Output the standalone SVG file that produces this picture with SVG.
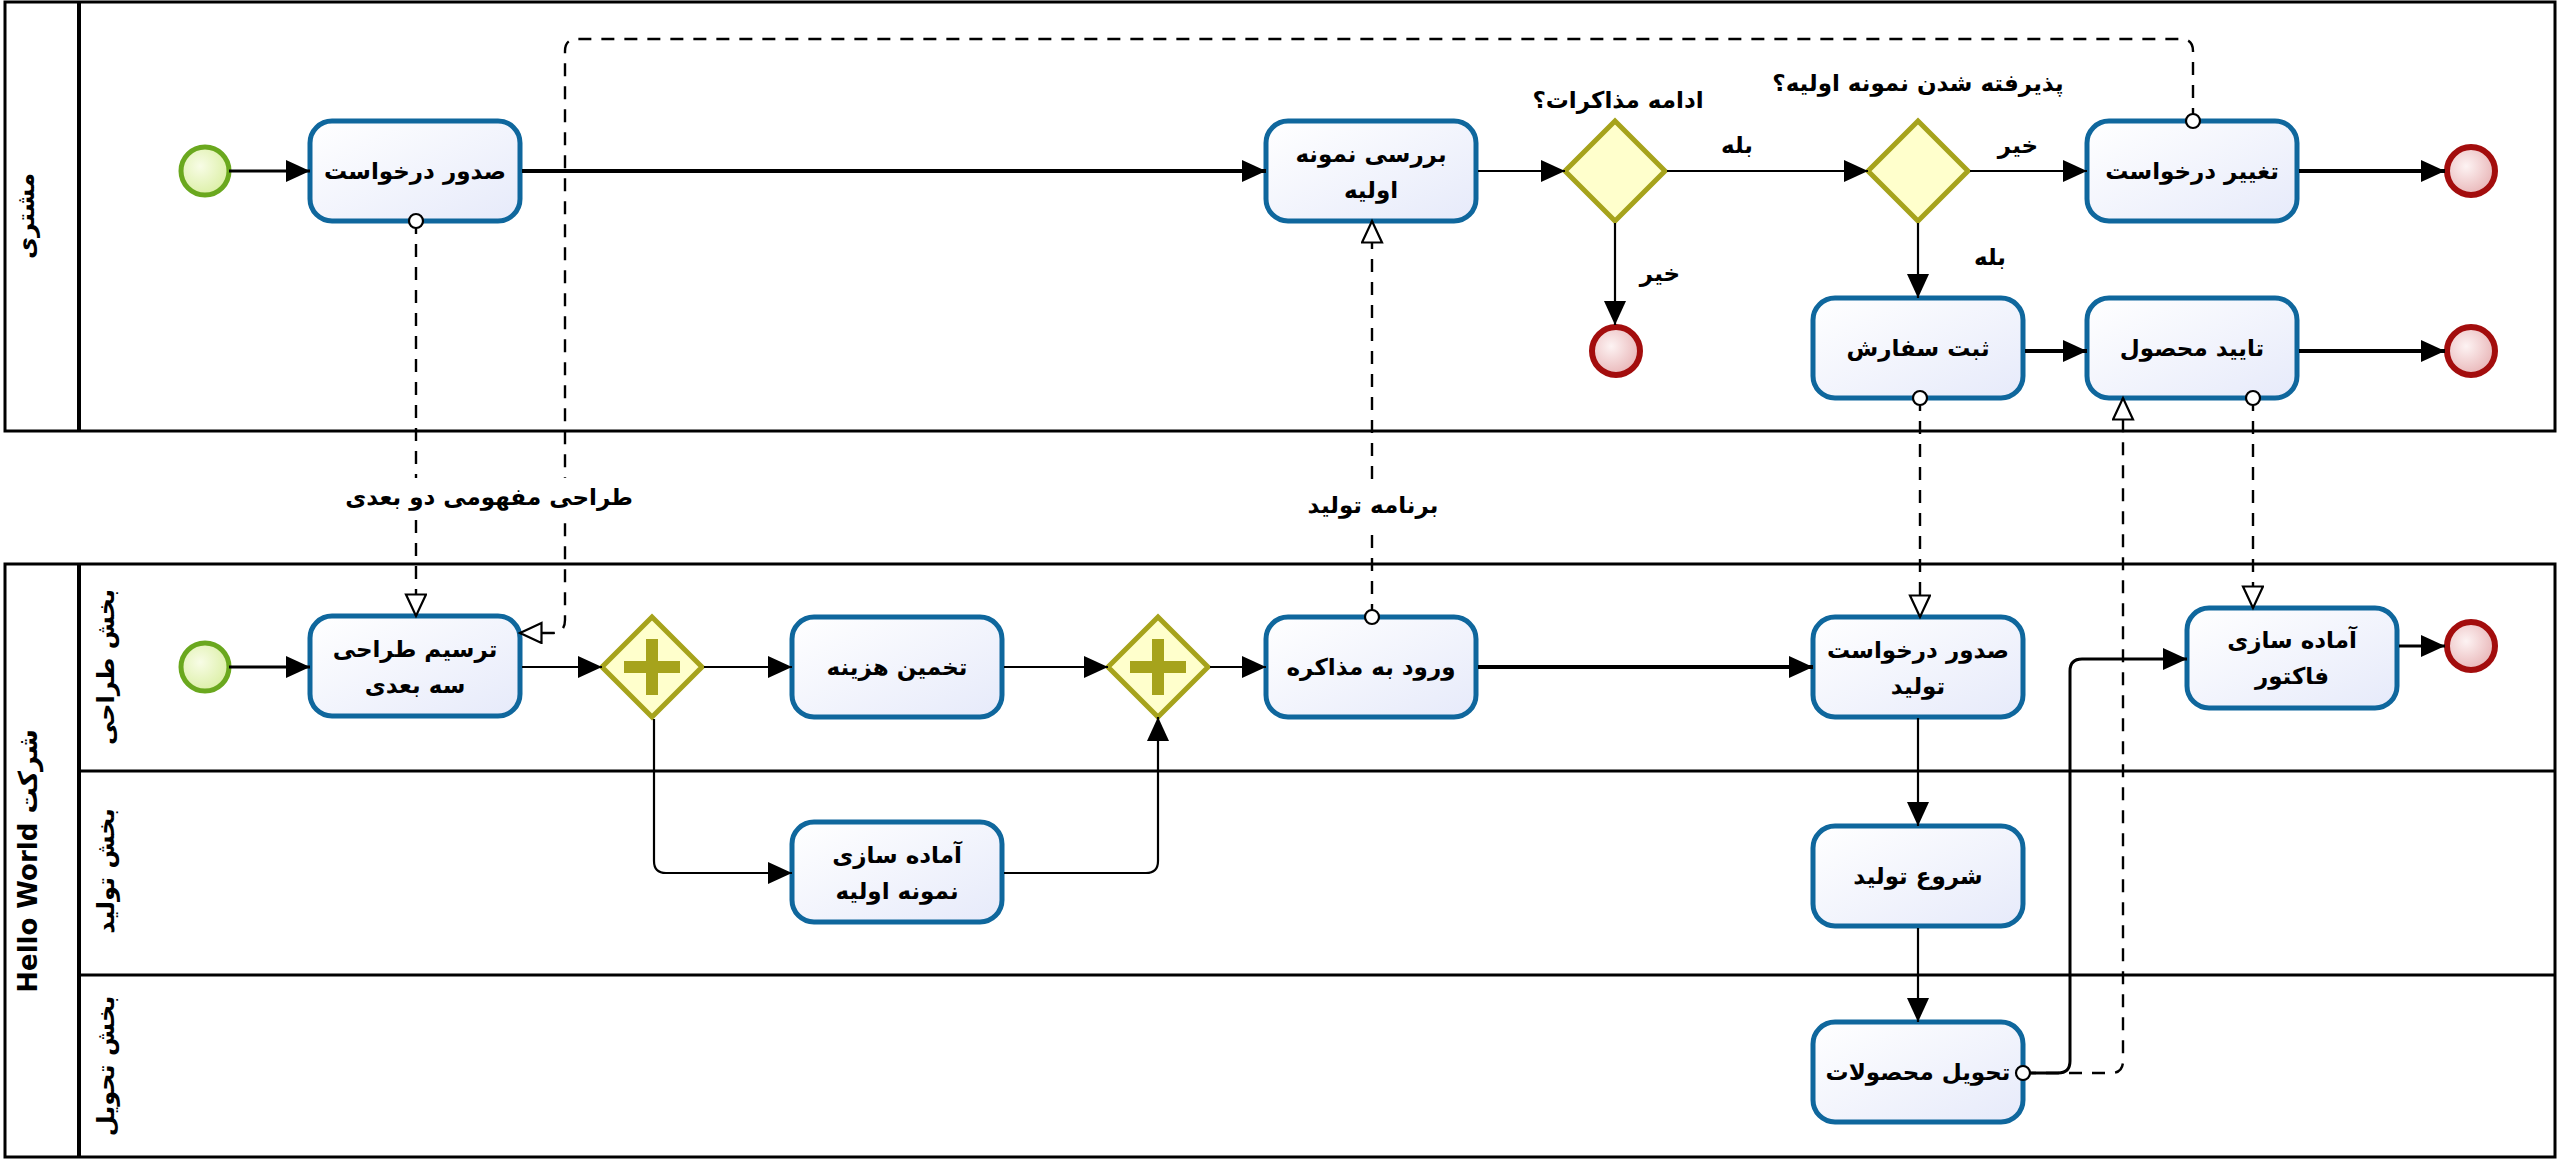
<svg xmlns="http://www.w3.org/2000/svg" width="2560" height="1168" viewBox="0 0 2560 1168">
<defs>
  <linearGradient id="taskFill" x1="0" y1="0" x2="1" y2="1">
    <stop offset="0" stop-color="#FFFFFF"/>
    <stop offset="1" stop-color="#E6EAFA"/>
  </linearGradient>
  <radialGradient id="startFill" cx="0.4" cy="0.4" r="0.7">
    <stop offset="0" stop-color="#F8FCE6"/>
    <stop offset="1" stop-color="#D8EE9E"/>
  </radialGradient>
  <radialGradient id="endFill" cx="0.4" cy="0.4" r="0.7">
    <stop offset="0" stop-color="#FDF3F3"/>
    <stop offset="1" stop-color="#E6AEB0"/>
  </radialGradient>
  <marker id="arrow" markerUnits="userSpaceOnUse" markerWidth="26" markerHeight="24" refX="24" refY="11" orient="auto">
    <path d="M0,0 L24,11 L0,22 z" fill="#000"/>
  </marker>
  <marker id="hollow" markerUnits="userSpaceOnUse" markerWidth="26" markerHeight="26" refX="23" refY="11" orient="auto">
    <path d="M1.5,1 L23,11 L1.5,21 z" fill="#FFFFFF" stroke="#000" stroke-width="2.2" stroke-dasharray="none"/>
  </marker>
  <marker id="dot" markerUnits="userSpaceOnUse" markerWidth="20" markerHeight="20" refX="10" refY="10" orient="auto">
    <circle cx="10" cy="10" r="7" fill="#FFFFFF" stroke="#000" stroke-width="2.2" stroke-dasharray="none"/>
  </marker>
</defs>
<style>
  .pool { fill: #FFFFFF; stroke: #000; stroke-width: 3; }
  .divider { stroke: #000; stroke-width: 4; fill: none; }
  .lane { stroke: #000; stroke-width: 3; fill: none; }
  .task { fill: url(#taskFill); stroke: #0F679D; stroke-width: 5; }
  .start { fill: url(#startFill); stroke: #6AA81E; stroke-width: 5; }
  .end { fill: url(#endFill); stroke: #A30D0D; stroke-width: 6; }
  .gw { fill: #FFFFCC; stroke: #A6A31C; stroke-width: 5; stroke-linejoin: miter; }
  .plus { fill: #A6A31C; }
  .flow { fill: none; stroke: #000; stroke-width: 3; marker-end: url(#arrow); }
  .flow.thin { stroke-width: 2.2; }
  .flow.thick { stroke-width: 4; }
  .msg { fill: none; stroke: #000; stroke-width: 2.4; stroke-dasharray: 13 10; marker-start: url(#dot); marker-end: url(#hollow); }
  text { font-family: "DejaVu Sans", "Noto Sans", sans-serif; font-weight: bold; fill: #000; }
  .t { font-size: 23px; text-anchor: middle; dominant-baseline: central; }
  .lbl { font-size: 23px; text-anchor: middle; dominant-baseline: central; }
  .hdr { font-size: 24px; text-anchor: middle; dominant-baseline: central; }
  .lblbg { fill: #FFFFFF; }
</style>

<!-- Pools and lanes -->
<g id="pool-customer">
  <rect class="pool" x="5" y="2" width="2550" height="429"/>
  <line class="divider" x1="79" y1="2" x2="79" y2="431"/>
  <text class="hdr" transform="translate(26,216) rotate(-90)">مشتری</text>
</g>
<g id="pool-company">
  <rect class="pool" x="5" y="564" width="2550" height="593"/>
  <line class="divider" x1="79" y1="564" x2="79" y2="1157"/>
  <line class="lane" x1="79" y1="771" x2="2555" y2="771"/>
  <line class="lane" x1="79" y1="975" x2="2555" y2="975"/>
  <text class="hdr" direction="rtl" style="font-size:26px" transform="translate(28,861) rotate(-90)">شرکت Hello World</text>
  <text class="hdr" transform="translate(106,667) rotate(-90)">بخش طراحی</text>
  <text class="hdr" transform="translate(106,871) rotate(-90)">بخش تولید</text>
  <text class="hdr" transform="translate(106,1066) rotate(-90)">بخش تحویل</text>
</g>

<!-- Customer pool nodes -->
<g id="start-customer"><circle class="start" cx="205" cy="171" r="24"/></g>
<g id="task-issue-request">
  <rect class="task" x="310" y="121" width="210" height="100" rx="22"/>
  <text class="t" x="415" y="171">صدور درخواست</text>
</g>
<g id="task-review-prototype">
  <rect class="task" x="1266" y="121" width="210" height="100" rx="22"/>
  <text class="t" x="1371" y="154">بررسی نمونه</text>
  <text class="t" x="1371" y="190">اولیه</text>
</g>
<g id="gw-continue">
  <polygon class="gw" points="1615,121 1665,171 1615,221 1565,171"/>
  <text class="lbl" x="1618" y="100">ادامه مذاکرات؟</text>
</g>
<g id="end-no-continue"><circle class="end" cx="1616" cy="351" r="24"/></g>
<g id="gw-accepted">
  <polygon class="gw" points="1918,121 1968,171 1918,221 1868,171"/>
  <text class="lbl" x="1918" y="83">پذیرفته شدن نمونه اولیه؟</text>
</g>
<g id="task-change-request">
  <rect class="task" x="2087" y="121" width="210" height="100" rx="22"/>
  <text class="t" x="2192" y="171">تغییر درخواست</text>
</g>
<g id="end-change"><circle class="end" cx="2471" cy="171" r="24"/></g>
<g id="task-place-order">
  <rect class="task" x="1813" y="298" width="210" height="100" rx="22"/>
  <text class="t" x="1918" y="348">ثبت سفارش</text>
</g>
<g id="task-confirm-product">
  <rect class="task" x="2087" y="298" width="210" height="100" rx="22"/>
  <text class="t" x="2192" y="348">تایید محصول</text>
</g>
<g id="end-confirm"><circle class="end" cx="2471" cy="351" r="24"/></g>

<!-- Company pool nodes -->
<g id="start-company"><circle class="start" cx="205" cy="667" r="24"/></g>
<g id="task-3d-design">
  <rect class="task" x="310" y="616" width="210" height="100" rx="22"/>
  <text class="t" x="415" y="649">ترسیم طراحی</text>
  <text class="t" x="415" y="685">سه بعدی</text>
</g>
<g id="gw-split">
  <polygon class="gw" points="652,617 702,667 652,717 602,667"/>
  <rect class="plus" x="624" y="661" width="56" height="12"/>
  <rect class="plus" x="646" y="639" width="12" height="56"/>
</g>
<g id="task-estimate-cost">
  <rect class="task" x="792" y="617" width="210" height="100" rx="22"/>
  <text class="t" x="897" y="667">تخمین هزینه</text>
</g>
<g id="task-prepare-prototype">
  <rect class="task" x="792" y="822" width="210" height="100" rx="22"/>
  <text class="t" x="897" y="855">آماده سازی</text>
  <text class="t" x="897" y="891">نمونه اولیه</text>
</g>
<g id="gw-join">
  <polygon class="gw" points="1158,617 1208,667 1158,717 1108,667"/>
  <rect class="plus" x="1130" y="661" width="56" height="12"/>
  <rect class="plus" x="1152" y="639" width="12" height="56"/>
</g>
<g id="task-negotiate">
  <rect class="task" x="1266" y="617" width="210" height="100" rx="22"/>
  <text class="t" x="1371" y="667">ورود به مذاکره</text>
</g>
<g id="task-production-request">
  <rect class="task" x="1813" y="617" width="210" height="100" rx="22"/>
  <text class="t" x="1918" y="650">صدور درخواست</text>
  <text class="t" x="1918" y="686">تولید</text>
</g>
<g id="task-start-production">
  <rect class="task" x="1813" y="826" width="210" height="100" rx="22"/>
  <text class="t" x="1918" y="876">شروع تولید</text>
</g>
<g id="task-deliver">
  <rect class="task" x="1813" y="1022" width="210" height="100" rx="22"/>
  <text class="t" x="1918" y="1072">تحویل محصولات</text>
</g>
<g id="task-invoice">
  <rect class="task" x="2187" y="608" width="210" height="100" rx="22"/>
  <text class="t" x="2292" y="640">آماده سازی</text>
  <text class="t" x="2292" y="676">فاکتور</text>
</g>
<g id="end-invoice"><circle class="end" cx="2471" cy="646" r="24"/></g>

<!-- Connectors -->
<g id="connectors">
  <path class="flow" d="M229,171 L310,171"/>
  <path class="flow thick" d="M522,171 L1266,171"/>
  <path class="flow thin" d="M1478,171 L1565,171"/>
  <path class="flow thin" d="M1667,171 L1868,171"/>
  <path class="flow thin" d="M1615,223 L1615,325"/>
  <path class="flow thin" d="M1970,171 L2087,171"/>
  <path class="flow thin" d="M1918,223 L1918,298"/>
  <path class="flow thick" d="M2299,171 L2445,171"/>
  <path class="flow thick" d="M2025,351 L2087,351"/>
  <path class="flow thick" d="M2299,351 L2445,351"/>

  <path class="flow" d="M229,667 L310,667"/>
  <path class="flow thin" d="M522,667 L602,667"/>
  <path class="flow thin" d="M704,667 L792,667"/>
  <path class="flow thin" d="M654,719 L654,861 Q654,873 666,873 L792,873"/>
  <path class="flow thin" d="M1004,667 L1108,667"/>
  <path class="flow thin" d="M1004,873 L1146,873 Q1158,873 1158,861 L1158,717"/>
  <path class="flow thin" d="M1210,667 L1266,667"/>
  <path class="flow thick" d="M1478,667 L1813,667"/>
  <path class="flow thin" d="M1918,718 L1918,826"/>
  <path class="flow thin" d="M1918,928 L1918,1022"/>
  <path class="flow" d="M2030,1073 L2058,1073 Q2070,1073 2070,1061 L2070,671 Q2070,659 2082,659 L2187,659"/>
  <path class="flow" d="M2399,646 L2445,646"/>

  <path class="msg" d="M416,221 L416,616"/>
  <path class="msg" d="M1372,617 L1372,221"/>
  <path class="msg" d="M2193,121 L2193,51 Q2193,39 2181,39 L577,39 Q565,39 565,51 L565,620 Q565,633 552,633 L520,633"/>
  <path class="msg" d="M1920,398 L1920,617"/>
  <path class="msg" d="M2253,398 L2253,608"/>
  <path class="msg" d="M2023,1073 L2111,1073 Q2123,1073 2123,1061 L2123,398"/>

  <rect class="lblbg" x="362" y="478" width="256" height="40"/>
  <text class="lbl" x="489" y="497">طراحی مفهومی دو بعدی</text>
  <rect class="lblbg" x="1310" y="486" width="126" height="40"/>
  <text class="lbl" x="1373" y="505">برنامه تولید</text>
  <text class="lbl" x="1737" y="145">بله</text>
  <text class="lbl" x="1660" y="273">خیر</text>
  <text class="lbl" x="2018" y="145">خیر</text>
  <text class="lbl" x="1990" y="257">بله</text>
</g>
</svg>
